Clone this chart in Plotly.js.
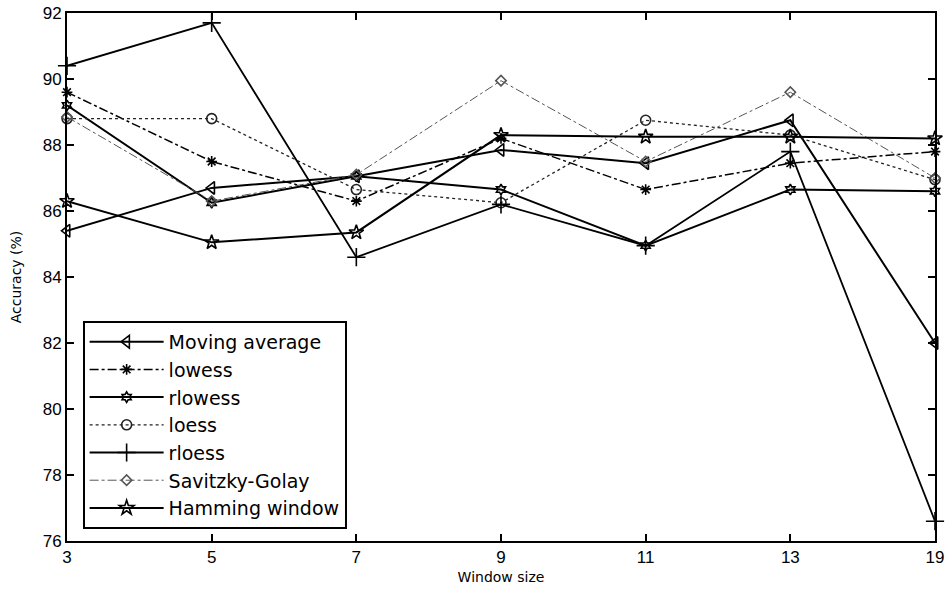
<!DOCTYPE html>
<html>
<head>
<meta charset="utf-8">
<script src="https://cdn.plot.ly/plotly-3.0.1.min.js"></script>
<style>
  html, body { margin: 0; padding: 0; background: #fff; }
  #chart { width: 949px; height: 595px; }
</style>
</head>
<body>
<div id="chart"></div>
<script>
// Window sizes (evenly spaced categories)
const windowSizes = ['3', '5', '7', '9', '11', '13', '19'];

// Accuracy (%) of each smoothing method per window size
const movingAverage = [85.4, 86.7, 87.05, 87.85, 87.45, 88.75, 82.0];
const lowess        = [89.6, 87.5, 86.3, 88.2, 86.65, 87.45, 87.8];
const rlowess       = [89.2, 86.25, 87.05, 86.65, 84.95, 86.65, 86.6];
const loess         = [88.8, 88.8, 86.65, 86.25, 88.75, 88.3, 86.95];
const rloess        = [90.4, 91.7, 84.6, 86.2, 84.95, 87.8, 76.6];
const savitzkyGolay = [88.85, 86.3, 87.1, 89.95, 87.5, 89.6, 87.0];
const hamming       = [86.3, 85.05, 85.35, 88.3, 88.25, 88.25, 88.2];

const yTicks = [76, 78, 80, 82, 84, 86, 88, 90, 92];

function series(name, y, symbol, dash, width, msize, color) {
  return {
    x: windowSizes, y: y, name: name,
    type: 'scatter', mode: 'lines+markers',
    line: { color: color || '#000', width: width, dash: dash },
    marker: { symbol: symbol, size: msize, color: color || '#000',
              line: { color: color || '#000', width: 1.6 } },
    cliponaxis: false
  };
}

const data = [
  series('Moving average', movingAverage, 'triangle-left-open', 'solid', 2, 11),
  series('lowess', lowess, 'asterisk-open', 'dashdot', 1.5, 9),
  series('rlowess', rlowess, 'hexagram-open', 'solid', 2, 8),
  series('loess', loess, 'circle-open', 'dot', 1.3, 10, '#222'),
  series('rloess', rloess, 'cross-thin-open', 'solid', 1.8, 13),
  series('Savitzky-Golay', savitzkyGolay, 'diamond-open', 'dashdot', 1, 8, '#555'),
  series('Hamming window', hamming, 'star-open', 'solid', 2, 11)
];

const tickFont = { family: 'Liberation Sans, Arial, sans-serif', size: 17, color: '#000' };
const titleFont = { family: 'DejaVu Sans, sans-serif', size: 14, color: '#000' };

const axisCommon = {
  showline: true, linecolor: '#000', linewidth: 2,
  mirror: 'allticks', ticks: 'inside', ticklen: 7, tickwidth: 2,
  tickcolor: '#000', showgrid: false, zeroline: false,
  tickfont: tickFont
};

const layout = {
  width: 949, height: 595,
  margin: { l: 67, r: 14, t: 13, b: 54 },
  paper_bgcolor: '#fff', plot_bgcolor: '#fff',
  showlegend: true,
  xaxis: Object.assign({}, axisCommon, {
    type: 'category', range: [0, 6],
    title: { text: 'Window size', standoff: 6, font: titleFont }
  }),
  yaxis: Object.assign({}, axisCommon, {
    range: [76, 92], tickvals: yTicks,
    title: { text: 'Accuracy (%)', standoff: 18, font: titleFont }
  }),
  legend: {
    x: 0.018, y: 0.023, xanchor: 'left', yanchor: 'bottom',
    bgcolor: '#fff', bordercolor: '#000', borderwidth: 2,
    itemwidth: 74, tracegroupgap: 0,
    font: { family: 'DejaVu Sans, sans-serif', size: 19, color: '#000' }
  }
};

Plotly.newPlot('chart', data, layout, { displayModeBar: false, staticPlot: true });
</script>
</body>
</html>
